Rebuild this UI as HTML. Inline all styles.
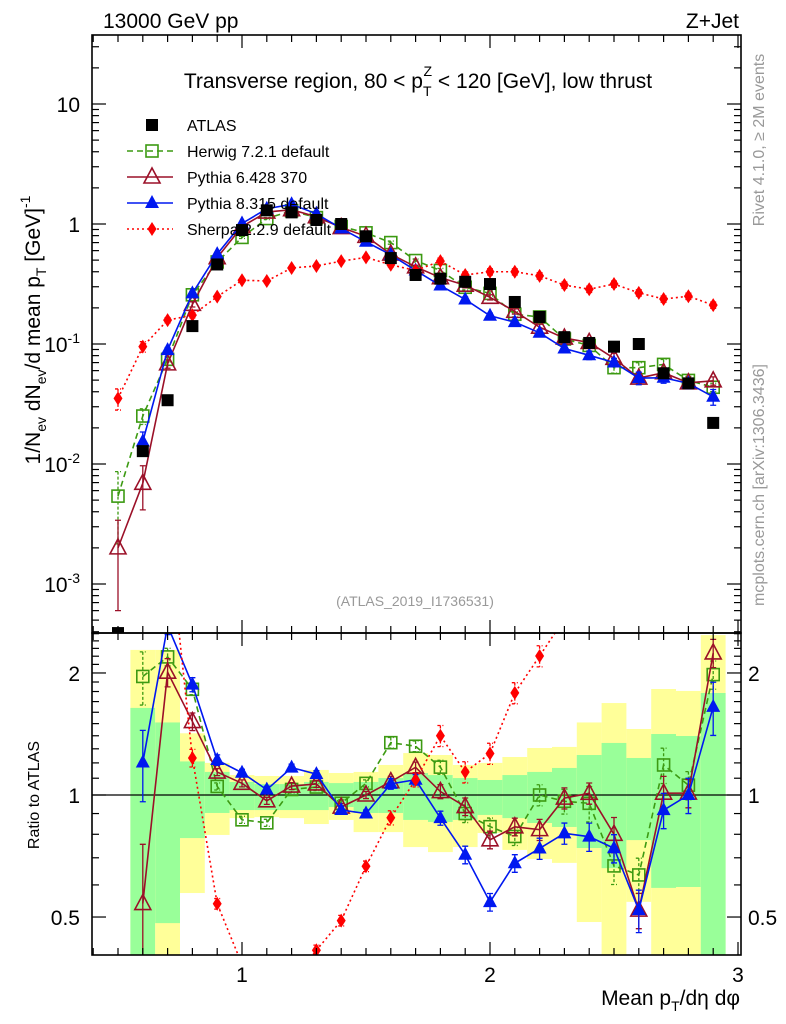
<!DOCTYPE html>
<html><head><meta charset="utf-8"><style>
html,body{margin:0;padding:0;background:#fff;}
svg{display:block;font-family:"Liberation Sans",sans-serif;}
</style></head><body>
<svg id="chart" width="786" height="1024" viewBox="0 0 786 1024" xmlns="http://www.w3.org/2000/svg">
<defs>
<clipPath id="cm"><rect x="92" y="35" width="649" height="598"/></clipPath>
<clipPath id="cr"><rect x="92" y="633" width="649" height="322"/></clipPath>
</defs>
<g id="bands" clip-path="url(#cr)"></g>
<g id="rmarks" clip-path="url(#cr)"></g>
<g id="mmarks" clip-path="url(#cm)"></g>
<g id="axes"></g>
<text x="103" y="28" font-size="21">13000 GeV pp</text>
<text x="739" y="28" font-size="21" text-anchor="end">Z+Jet</text>
<text x="418" y="88" font-size="21" text-anchor="middle">Transverse region, 80 &lt; p<tspan font-size="14" dy="8">T</tspan><tspan font-size="14" dx="-8" dy="-20">Z</tspan><tspan dy="12"> &lt; 120 [GeV], low thrust</tspan></text>
<text transform="translate(764,140) rotate(-90)" font-size="16" fill="#999" text-anchor="middle">Rivet 4.1.0, ≥ 2M events</text>
<text transform="translate(764,485) rotate(-90)" font-size="16" fill="#999" text-anchor="middle">mcplots.cern.ch [arXiv:1306.3436]</text>
<text x="415" y="606" font-size="14" fill="#999" text-anchor="middle">(ATLAS_2019_I1736531)</text>
<text transform="translate(40,330) rotate(-90)" font-size="21" text-anchor="middle">1/N<tspan font-size="14" dy="6">ev</tspan><tspan dy="-6"> dN</tspan><tspan font-size="14" dy="6">ev</tspan><tspan dy="-6">/d mean p</tspan><tspan font-size="14" dy="6">T</tspan><tspan dy="-6"> [GeV]</tspan><tspan font-size="14" dy="-10">-1</tspan></text>
<text transform="translate(39,795) rotate(-90)" font-size="16" text-anchor="middle">Ratio to ATLAS</text>
<text x="740" y="1005" font-size="21" text-anchor="end">Mean p<tspan font-size="14" dy="6">T</tspan><tspan dy="-6">/dη dφ</tspan></text>
<g id="legend"></g>
</svg>
<script>
const bins=[0.5,0.6,0.7,0.8,0.9,1.0,1.1,1.2,1.3,1.4,1.5,1.6,1.7,1.8,1.9,2.0,2.1,2.2,2.3,2.4,2.5,2.6,2.7,2.8,2.9];
const atlas=[0.00039,0.0128,0.034,0.141,0.46,0.89,1.3,1.25,1.08,1.0,0.79,0.52,0.376,0.35,0.33,0.316,0.224,0.168,0.114,0.102,0.095,0.1,0.057,0.047,0.022];
const herwig=[0.0054,0.0251,0.0745,0.257,0.483,0.773,1.11,1.29,1.13,0.954,0.844,0.70,0.496,0.41,0.297,0.264,0.177,0.168,0.110,0.0973,0.0635,0.0635,0.0676,0.0497,0.0436];
const pythia6=[0.002,0.00691,0.0683,0.214,0.524,0.951,1.258,1.315,1.15,0.934,0.79,0.561,0.44,0.357,0.309,0.245,0.187,0.138,0.112,0.103,0.076,0.052,0.0576,0.0475,0.0493];
const pythia8=[null,0.0154,0.089,0.264,0.561,1.01,1.34,1.46,1.216,0.918,0.711,0.554,0.41,0.307,0.235,0.172,0.152,0.124,0.0917,0.0805,0.0702,0.052,0.0523,0.047,0.0363];
const sherpa=[0.0352,0.095,0.158,0.174,0.248,0.34,0.335,0.43,0.447,0.49,0.527,0.457,0.41,0.49,0.376,0.40,0.40,0.37,0.31,0.286,0.316,0.267,0.237,0.25,0.211];
const herwigErr=[0.6,0.15,0.05,0.03,0.02,0.02,0.02,0.02,0.02,0.02,0.02,0.03,0.03,0.04,0.05,0.05,0.05,0.06,0.07,0.1,0.1,0.1,0.1,0.08,0.08];
const pythia6Err=[0.7,0.4,0.08,0.05,0.02,0.02,0.02,0.02,0.02,0.02,0.02,0.03,0.03,0.04,0.05,0.05,0.05,0.06,0.06,0.06,0.1,0.1,0.1,0.08,0.08];
const pythia8Err=[0,0.2,0.05,0.04,0.03,0.02,0.02,0.02,0.02,0.02,0.02,0.03,0.03,0.04,0.05,0.05,0.05,0.06,0.06,0.08,0.08,0.12,0.1,0.1,0.15];
const sherpaErr=[0.2,0.1,0.05,0.05,0.03,0.03,0.03,0.03,0.03,0.03,0.03,0.04,0.04,0.06,0.06,0.06,0.06,0.06,0.06,0.06,0.06,0.06,0.06,0.06,0.06];
const yellowUp=[null,2.28,2.28,1.42,1.20,1.12,1.114,1.114,1.153,1.133,1.14,1.186,1.269,1.255,1.186,1.20,1.241,1.306,1.314,1.51,1.686,1.455,1.826,1.806,2.48];
const greenUp=[null,1.64,1.51,1.21,1.14,1.077,1.064,1.064,1.077,1.070,1.077,1.101,1.133,1.12,1.101,1.089,1.12,1.14,1.166,1.255,1.344,1.234,1.414,1.398,1.785];
const greenDn=[null,0.3,0.483,0.783,0.903,0.918,0.918,0.918,0.918,0.934,0.903,0.903,0.868,0.858,0.868,0.893,0.877,0.853,0.834,0.740,0.660,0.774,0.590,0.593,0.3];
const yellowDn=[null,0.3,0.3,0.573,0.797,0.877,0.882,0.877,0.848,0.868,0.810,0.810,0.744,0.723,0.744,0.806,0.732,0.695,0.680,0.486,0.3,0.545,0.3,0.3,0.3];
const mainTicks=[10,1,0.1,0.01,0.001];
const ratioTicks=[2,1,0.5];
const xTicks=[1,2,3];

const NS="http://www.w3.org/2000/svg";
const X=v=>242+(v-1)*248;
const Y=v=>224-Math.log10(v)*120;
const R=v=>795-Math.log10(v)/0.002467;
function mk(parent,tag,attrs){const e=document.createElementNS(NS,tag);for(const k in attrs)e.setAttribute(k,attrs[k]);parent.appendChild(e);return e;}
const axes=document.getElementById('axes');
const bandsG=document.getElementById('bands');
const mm=document.getElementById('mmarks');
const rm=document.getElementById('rmarks');

bins.forEach((b,i)=>{
  if(yellowUp[i]==null)return;
  const x0=X(b-0.05),x1=X(b+0.05);
  let e=mk(bandsG,'rect',{x:x0,y:R(yellowUp[i]),width:x1-x0,height:R(yellowDn[i])-R(yellowUp[i]),fill:'#ffff99'});
  
  
  e=mk(bandsG,'rect',{x:x0,y:R(greenUp[i]),width:x1-x0,height:R(greenDn[i])-R(greenUp[i]),fill:'#99ff99'});
  
  
});
let one=mk(bandsG,'line',{x1:92,x2:741,y1:R(1),y2:R(1),stroke:'#000','stroke-width':1.2});



function marker(g,type,x,y,col){
  let e;
  if(type==='sq'){e=mk(g,'rect',{x:x-6,y:y-6,width:12,height:12,fill:'#000'});}
  else if(type==='osq'){e=mk(g,'rect',{x:x-6,y:y-6,width:12,height:12,fill:'none',stroke:col,'stroke-width':1.6});}
  else if(type==='otri'){e=mk(g,'path',{d:`M${x} ${y-9}L${x+8} ${y+6}L${x-8} ${y+6}Z`,fill:'none',stroke:col,'stroke-width':1.6});}
  else if(type==='tri'){e=mk(g,'path',{d:`M${x} ${y-8}L${x+7} ${y+5}L${x-7} ${y+5}Z`,fill:col});}
  else {e=mk(g,'path',{d:`M${x} ${y-7}L${x+4.5} ${y}L${x} ${y+7}L${x-4.5} ${y}Z`,fill:col});}
  return e;
}
const series=[
 {name:'herwig',vals:herwig,err:herwigErr,col:'#3c9a12',dash:'6,4',m:'osq'},
 {name:'pythia6',vals:pythia6,err:pythia6Err,col:'#9b1028',dash:'',m:'otri'},
 {name:'pythia8',vals:pythia8,err:pythia8Err,col:'#0018f0',dash:'',m:'tri'},
 {name:'sherpa',vals:sherpa,err:sherpaErr,col:'#ff0000',dash:'2,3',m:'dia'}
];
function drawSeries(g,s,fy,ratio){
  const pts=[];
  bins.forEach((b,i)=>{const v=s.vals[i];if(v==null)return;if(ratio&&yellowUp[i]==null)return;const val=ratio?v/atlas[i]:v;pts.push([X(b),fy(val),val,i]);});
  const ln=mk(g,'polyline',{points:pts.map(p=>p[0]+','+p[1]).join(' '),fill:'none',stroke:s.col,'stroke-width':1.6,'stroke-dasharray':s.dash});
  
  
  pts.forEach(p=>{
    const er=s.err[p[3]];
    if(er>0){
      const y1=fy(p[2]*(1+er)),y2=fy(Math.max(p[2]*(1-er),1e-9));
      const eb=mk(g,'path',{d:`M${p[0]} ${y1}L${p[0]} ${y2}M${p[0]-3} ${y1}L${p[0]+3} ${y1}M${p[0]-3} ${y2}L${p[0]+3} ${y2}`,stroke:s.col,'stroke-width':1.3,fill:'none','stroke-dasharray':s.dash?'3,2':''});
      
      
    }
    const m=marker(g,s.m,p[0],p[1],s.col);
    
    
  });
}
series.forEach(s=>drawSeries(mm,s,Y,false));
bins.forEach((b,i)=>{
  const m=marker(mm,'sq',X(b),Y(atlas[i]),'#000');
  
  
});
series.forEach(s=>drawSeries(rm,s,R,true));

[[35,598],[633,322]].forEach(f=>{
  const r=mk(axes,'rect',{x:92,y:f[0],width:649,height:f[1],fill:'none',stroke:'#000','stroke-width':1.6});
  
  
});
for(let k=4;k<=30;k++){
  const v=k/10,x=X(v),maj=(k%10===0),L=maj?13:7;
  [[35,1],[633,-1],[633,1],[955,-1]].forEach(t=>{
    const l=mk(axes,'line',{x1:x,x2:x,y1:t[0],y2:t[0]+t[1]*L,stroke:'#000','stroke-width':1.2});
    
    
  });
}
xTicks.forEach(v=>{
  const t=mk(axes,'text',{x:X(v),y:982,'font-size':21,'text-anchor':'middle'});
  t.textContent=String(v);
  
  
});
for(let d=-4;d<=1;d++){
  for(let m=1;m<=9;m++){
    const v=m*Math.pow(10,d),y=Y(v);
    if(y<35||y>633)continue;
    const L=m===1?14:7;
    [[92,1],[741,-1]].forEach(t=>{
      const l=mk(axes,'line',{x1:t[0],x2:t[0]+t[1]*L,y1:y,y2:y,stroke:'#000','stroke-width':1.2});
      
      
    });
  }
}
mainTicks.forEach(v=>{
  const y=Y(v);const e=Math.round(Math.log10(v));
  const t=mk(axes,'text',{x:80,y:y+8,'font-size':21,'text-anchor':'end'});
  if(e>=0){t.textContent=String(v);}else{
    t.textContent='10';
    const s=mk(t,'tspan',{'font-size':14,dy:-9});s.textContent=String(e);
  }
  
  
});
for(let k=4;k<=25;k++){
  const v=k/10,y=R(v);
  if(y<633||y>955)continue;
  const L=(k===5||k===10||k===20)?14:7;
  [[92,1],[741,-1]].forEach(t=>{
    const l=mk(axes,'line',{x1:t[0],x2:t[0]+t[1]*L,y1:y,y2:y,stroke:'#000','stroke-width':1.2});
    
    
  });
}
ratioTicks.forEach(v=>{
  [[80,'end'],[748,'start']].forEach(p=>{
    const t=mk(axes,'text',{x:p[0],y:R(v)+8,'font-size':21,'text-anchor':p[1]});
    t.textContent=String(v);
    
    
  });
});
const leg=document.getElementById('legend');
const entries=[['ATLAS','sq','#000',''],['Herwig 7.2.1 default','osq','#3c9a12','6,4'],['Pythia 6.428 370','otri','#9b1028',''],['Pythia 8.315 default','tri','#0018f0',''],['Sherpa 2.2.9 default','dia','#ff0000','2,3']];
entries.forEach((en,i)=>{
  const y=125+i*26;
  const g=mk(leg,'g',{});
  
  
  if(i>0)mk(g,'line',{x1:127,x2:173,y1:y,y2:y,stroke:en[2],'stroke-width':1.6,'stroke-dasharray':en[3]});
  marker(g,en[1],152,y,en[2]);
  const t=mk(g,'text',{x:187,y:y+6,'font-size':16});
  t.textContent=en[0];
});
</script>
</body></html>
